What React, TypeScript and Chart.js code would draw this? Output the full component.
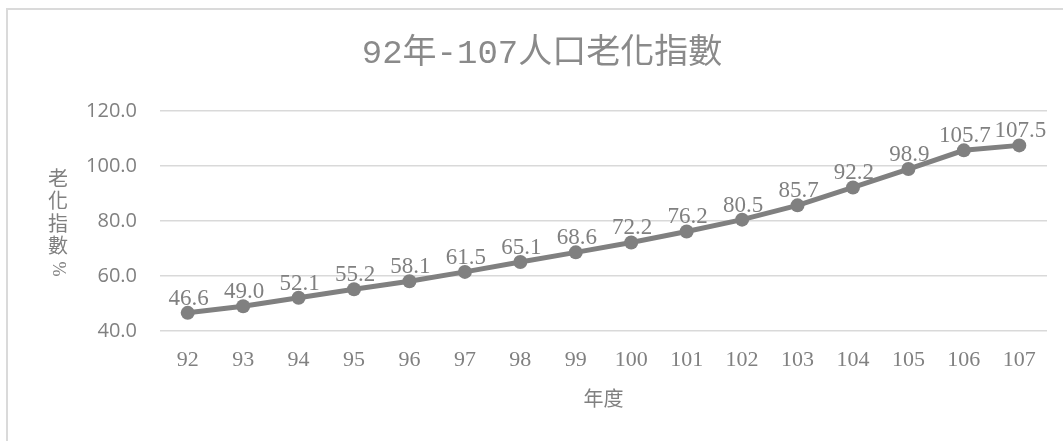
import React, { useEffect, useRef } from "react";
import { Chart, registerables } from "chart.js";

Chart.register(...registerables);

const years = ["92", "93", "94", "95", "96", "97", "98", "99", "100", "101", "102", "103", "104", "105", "106", "107"];
const agingIndex = [46.6, 49.0, 52.1, 55.2, 58.1, 61.5, 65.1, 68.6, 72.2, 76.2, 80.5, 85.7, 92.2, 98.9, 105.7, 107.5];
const titleText = "92年-107人口老化指數";
const yTitleChars = ["老", "化", "指", "數"];
const xTitleText = "年度";

const GRAY = "#808080";

const overlayPlugin = {
  id: "overlay",
  afterDatasetsDraw(chart: any) {
    const ctx = chart.ctx;
    const meta = chart.getDatasetMeta(0);
    ctx.save();
    ctx.fillStyle = GRAY;
    ctx.font = '23px "Liberation Serif", serif';
    ctx.textAlign = "center";
    ctx.textBaseline = "alphabetic";
    meta.data.forEach((pt: any, i: number) => {
      ctx.fillText(agingIndex[i].toFixed(1), pt.x + 1, pt.y - 8);
    });
    ctx.restore();
  },
  afterDraw(chart: any) {
    const ctx = chart.ctx;
    const area = chart.chartArea;
    ctx.save();
    ctx.fillStyle = "#8a8a8a";
    ctx.textAlign = "center";
    ctx.textBaseline = "middle";
    // title
    ctx.font = '34px "Liberation Mono", "Noto Sans CJK TC", monospace';
    ctx.fillText(titleText, 542, 54);
    ctx.fillStyle = GRAY;
    // x title
    ctx.font = '20px "Noto Sans CJK TC", sans-serif';
    ctx.fillText(xTitleText, (area.left + area.right) / 2, 398);
    // y title stacked
    yTitleChars.forEach((c, i) => {
      ctx.fillText(c, 58, 178 + i * 22.5);
    });
    ctx.save();
    ctx.translate(58, 269);
    ctx.rotate(Math.PI / 2);
    ctx.font = '18px "Liberation Serif", serif';
    ctx.fillText("%", 0, 0);
    ctx.restore();
    ctx.restore();
  },
};

export default function App() {
  const ref = useRef<HTMLCanvasElement | null>(null);
  useEffect(() => {
    if (!ref.current) return;
    const chart = new Chart(ref.current, {
      type: "line",
      data: {
        labels: years,
        datasets: [
          {
            data: agingIndex,
            borderColor: GRAY,
            backgroundColor: GRAY,
            borderWidth: 5,
            pointRadius: 7,
            pointBackgroundColor: GRAY,
            pointBorderColor: GRAY,
            pointBorderWidth: 0,
            tension: 0,
            clip: false as any,
          },
        ],
      },
      options: {
        responsive: false,
        animation: false,
        layout: { padding: { left: 0, right: 16, top: 111, bottom: 0 } },
        plugins: { legend: { display: false }, tooltip: { enabled: false }, title: { display: false } },
        scales: {
          x: {
            offset: true,
            grid: { display: false, drawTicks: false },
            border: { display: false },
            ticks: {
              color: GRAY,
              font: { family: '"Liberation Serif", serif', size: 22 },
              padding: 16,
              maxRotation: 0,
              autoSkip: false,
            },
            afterFit(scale: any) {
              scale.height = 110;
            },
          },
          y: {
            min: 40,
            max: 120,
            grid: { color: "#d9d9d9", lineWidth: 1.5, drawTicks: false },
            border: { display: false },
            ticks: {
              stepSize: 20,
              color: GRAY,
              font: { family: '"Open Sans", sans-serif', size: 20 },
              padding: 23,
              callback: (v: any) => Number(v).toFixed(1),
            },
            afterFit(scale: any) {
              scale.width = 160;
            },
          },
        },
      },
      plugins: [overlayPlugin],
    });
    return () => chart.destroy();
  }, []);
  return (
    <div>
      <div
        style={{
          position: "fixed",
          left: 6,
          top: 8,
          width: 1100,
          height: 480,
          border: "2px solid #dadada",
          boxSizing: "border-box",
        }}
      />
      <canvas
        ref={ref}
        width={1063}
        height={441}
        style={{ position: "fixed", left: 0, top: 0, width: 1063, height: 441 }}
      />
    </div>
  );
}
